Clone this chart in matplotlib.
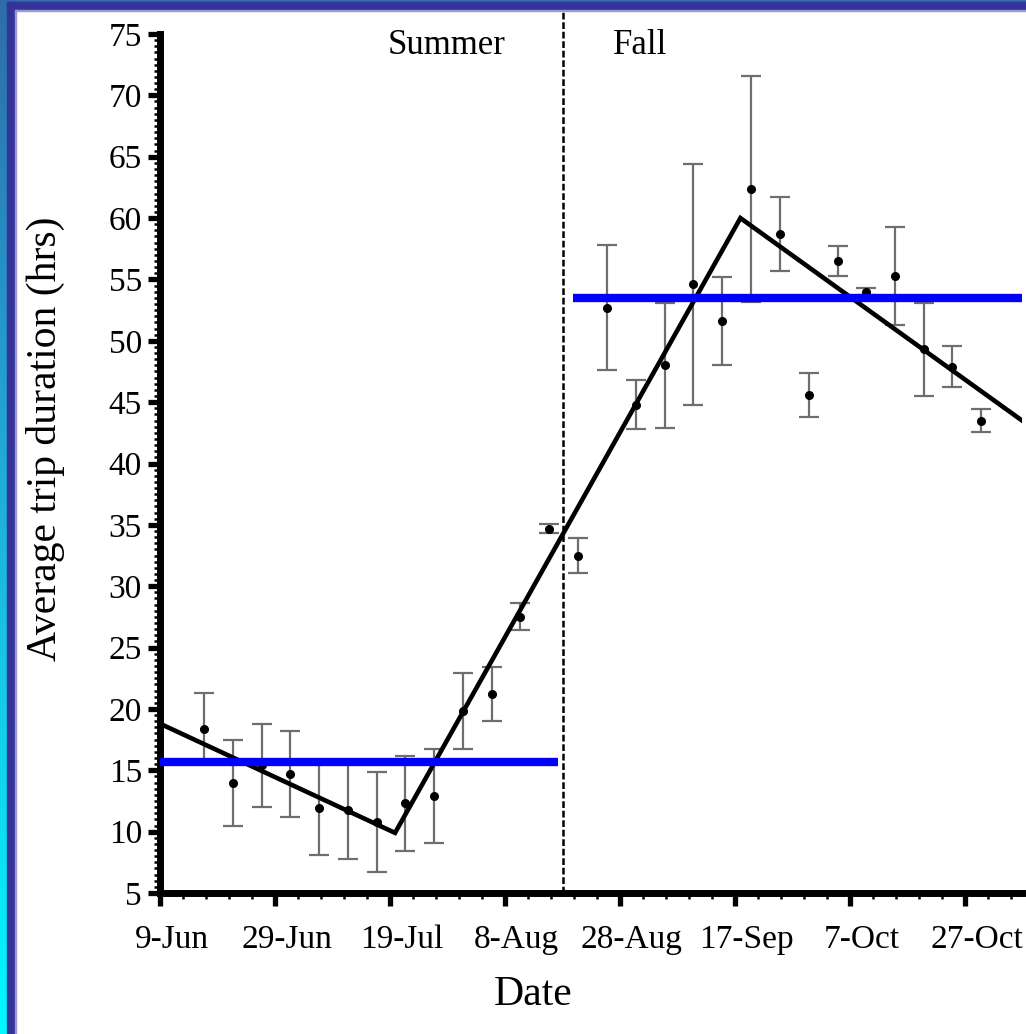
import numpy as np
import matplotlib
matplotlib.use("Agg")
import matplotlib.pyplot as plt
import matplotlib.transforms as mtransforms
from matplotlib.ticker import FixedLocator, MultipleLocator

plt.rcParams['font.family'] = ['Liberation Serif', 'DejaVu Serif']

# Days since 9-Jun for each sampling window
days = [7.7, 12.7, 17.7, 22.7, 27.7, 32.7, 37.7, 42.7, 47.7, 52.7, 57.7, 62.7, 67.7, 72.7,
        77.8, 82.8, 87.8, 92.8, 97.8, 102.8, 107.9, 112.9, 117.9, 122.9, 127.9, 132.9, 137.9, 142.9]
# Mean trip duration (hrs) and error (+/-)
mean_hrs = [18.4, 14.0, 15.4, 14.7, 11.9, 11.8, 10.8, 12.3, 12.9, 19.8, 21.2, 27.5, 34.7, 32.5,
            52.7, 44.8, 48.0, 54.6, 51.6, 62.4, 58.7, 45.6, 56.5, 54.0, 55.3, 49.3, 47.9, 43.5]
err_hrs = [2.9, 3.5, 3.4, 3.5, 3.8, 4.0, 4.1, 3.9, 3.8, 3.1, 2.2, 1.1, 0.35, 1.4,
           5.1, 2.0, 5.1, 9.8, 3.6, 9.2, 3.0, 1.8, 1.2, 0.3, 4.0, 3.8, 1.7, 0.95]

# Piecewise regression fit
fit_days = [0, 40.9, 101.0, 150]
fit_hrs = [18.8, 9.9, 60.0, 43.5]

# Seasonal means
season_split = 70.1
summer_span = [0, 69.2]
summer_mean = 15.65
fall_span = [71.9, 150]
fall_mean = 53.5

tick_days = [0, 20, 40, 60, 80, 100, 120, 140]
tick_names = ["9-Jun", "29-Jun", "19-Jul", "8-Aug", "28-Aug", "17-Sep", "7-Oct", "27-Oct"]

W, H = 1026, 1034
fig = plt.figure(figsize=(W / 100, H / 100), dpi=100)
fig.patch.set_facecolor("white")

# slide frame: gradient strip on the left, dark band inside it
grad = fig.add_axes([0, 0, 7 / W, 1])
grad.imshow(np.linspace(0, 1, 256).reshape(-1, 1), aspect="auto",
            cmap=matplotlib.colors.LinearSegmentedColormap.from_list("edge", ["#2f6cab", "#1fb2d8", "#00fbff"]),
            extent=[0, 1, 0, 1], origin="upper")
grad.axis("off")
fig.patches.append(plt.Rectangle((0, 1 - 2 / H), 1, 2 / H, transform=fig.transFigure,
                                 color="#2f6cab", zorder=0))
fig.patches.append(plt.Rectangle((7 / W, 0), 8 / W, 1 - 2 / H, transform=fig.transFigure,
                                 color="#333399", zorder=0))
fig.patches.append(plt.Rectangle((7 / W, 1 - 10 / H), 1, 8 / H, transform=fig.transFigure,
                                 color="#333399", zorder=0))
fig.patches.append(plt.Rectangle((15 / W, 0), 1 / W, 1 - 10 / H, transform=fig.transFigure,
                                 color="#9a9ad0", zorder=0))
fig.patches.append(plt.Rectangle((15 / W, 1 - 11 / H), 1, 1 / H, transform=fig.transFigure,
                                 color="#9a9ad0", zorder=0))

ax = fig.add_axes([160 / W, 1 - 893 / H, 862 / W, 859 / H])
ax.set_facecolor("white")

ax.errorbar(days, mean_hrs, yerr=err_hrs, fmt="o", color="black", ms=5.5,
            ecolor="#6e6e6e", elinewidth=1.6, capsize=7, capthick=1.6, zorder=3)
ax.plot(fit_days, fit_hrs, color="black", lw=3.3, zorder=4, solid_joinstyle="miter")
ax.plot(summer_span, [summer_mean, summer_mean], color="#0000ff", lw=6, zorder=5, solid_capstyle="butt")
ax.plot(fall_span, [fall_mean, fall_mean], color="#0000ff", lw=6, zorder=5, solid_capstyle="butt")
ax.plot([season_split, season_split], [5, 76.8], color="black", lw=1.8,
        linestyle=(0, (2.7, 1.1)), clip_on=False, zorder=2)

ax.text(49.9, 74.1, "Summer", fontsize=25, ha="center", va="center")
ax.text(83.5, 74.1, "Fall", fontsize=25, ha="center", va="center")

ax.set_xlim(0, 150)
ax.set_ylim(5, 75)
ax.xaxis.set_major_locator(FixedLocator(tick_days))
ax.set_xticklabels(tick_names)
ax.xaxis.set_minor_locator(MultipleLocator(4))
ax.yaxis.set_major_locator(MultipleLocator(5))
ax.yaxis.set_minor_locator(MultipleLocator(0.5))

for s in ["top", "right"]:
    ax.spines[s].set_visible(False)
for s in ["left", "bottom"]:
    ax.spines[s].set_linewidth(5)
ax.tick_params(which="major", length=9, width=3.8, labelsize=24, pad=4, direction="out")
ax.tick_params(which="minor", length=4, width=1.8, direction="out")
ax.tick_params(axis="x", which="major", pad=14)

# shift date labels a little to the right of their ticks
offset = mtransforms.ScaledTranslation(12 / 100, 0, fig.dpi_scale_trans)
for lab in ax.get_xticklabels():
    lab.set_transform(lab.get_transform() + offset)

fig.text(45 / W, 1 - 439 / H, "Average trip duration (hrs)", fontsize=30,
         rotation=90, ha="center", va="center")
fig.text(533 / W, 1 - 995 / H, "Date", fontsize=30, ha="center", va="center")

fig.savefig("out.png", dpi=100)
